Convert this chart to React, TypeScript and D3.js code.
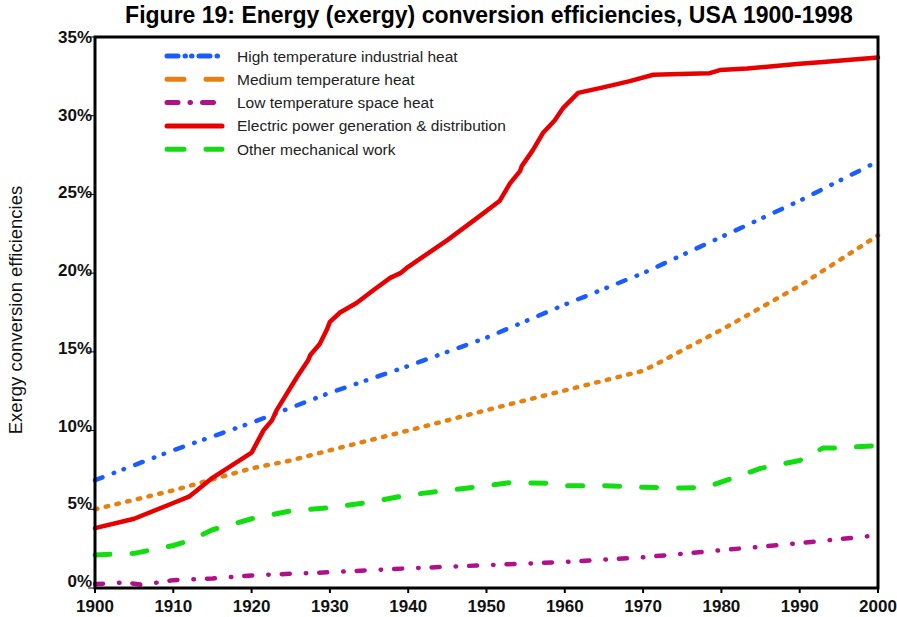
import React from 'react';
import * as d3 from 'd3';

const yearsHigh = [1900, 1910, 1920, 1930, 1940, 1950, 1960, 1970, 1980, 1990, 2000];
const valuesHigh = [6.85, 8.75, 10.5, 12.4, 14.1, 15.9, 18.0, 20.0, 22.3, 24.6, 27.1];

const yearsMedium = [1900, 1910, 1920, 1925, 1930, 1940, 1950, 1960, 1970, 1972, 1975, 1980, 1990, 2000];
const valuesMedium = [5.0, 6.2, 7.6, 8.1, 8.75, 10.0, 11.3, 12.55, 13.8, 14.3, 15.1, 16.4, 19.2, 22.4];

const yearsLow = [1900, 1904, 1906, 1910, 1915, 1920, 1930, 1940, 1950, 1960, 1970, 1980, 1990, 2000];
const valuesLow = [0.25, 0.35, 0.2, 0.5, 0.6, 0.8, 1.0, 1.25, 1.45, 1.65, 1.95, 2.4, 2.85, 3.35];

const yearsElectric = [1900, 1905, 1910, 1912, 1913, 1915, 1920, 1921.5, 1922.6, 1923.2, 1925.8, 1927.2, 1927.5, 1928.7, 1929.6, 1930, 1931.3, 1933.4, 1935.5, 1937.7, 1939, 1940, 1945, 1949.2, 1951.7, 1953, 1954.3, 1954.5, 1955.9, 1957.2, 1958.7, 1959.8, 1961.7, 1964.9, 1968.3, 1971.3, 1974.7, 1978.5, 1979.8, 1983.3, 1990, 1992.6, 2000];
const valuesElectric = [3.8, 4.4, 5.4, 5.8, 6.2, 7.0, 8.6, 10.0, 10.65, 11.3, 13.4, 14.45, 14.8, 15.5, 16.4, 16.9, 17.5, 18.1, 18.9, 19.7, 20.0, 20.4, 22.1, 23.65, 24.6, 25.7, 26.5, 26.8, 27.8, 28.9, 29.7, 30.5, 31.45, 31.8, 32.2, 32.6, 32.65, 32.7, 32.9, 33.0, 33.3, 33.4, 33.7];

const yearsMech = [1900, 1905, 1910, 1912, 1915, 1920, 1925, 1930, 1935, 1940, 1945, 1950, 1953, 1958, 1960, 1965, 1970, 1975, 1978, 1980.7, 1985, 1990, 1993, 1995, 2000];
const valuesMech = [2.1, 2.2, 2.7, 3.0, 3.7, 4.4, 4.9, 5.1, 5.45, 5.9, 6.2, 6.5, 6.7, 6.65, 6.5, 6.5, 6.4, 6.35, 6.4, 6.85, 7.6, 8.1, 8.9, 8.9, 9.05];

const seriesNames = [
  'High temperature industrial heat',
  'Medium temperature heat',
  'Low temperature space heat',
  'Electric power generation & distribution',
  'Other mechanical work',
];

const xTicks = [1900, 1910, 1920, 1930, 1940, 1950, 1960, 1970, 1980, 1990, 2000];
const yTicks = [0, 5, 10, 15, 20, 25, 30, 35];

const titleText = 'Figure 19: Energy (exergy) conversion efficiencies, USA 1900-1998';
const yAxisTitle = 'Exergy conversion efficiencies';

export default function App() {
  const W = 897, H = 617;
  const left = 95, right = 878, top = 37, bottom = 588;
  const x = d3.scaleLinear().domain([1900, 2000]).range([left, right]);
  const y = d3.scaleLinear().domain([0, 35]).range([bottom, top]);
  const line = d3.line<[number, number]>().x(d => x(d[0])).y(d => y(d[1])).curve(d3.curveLinear);
  const zip = (a: number[], b: number[]) => a.map((v, i) => [v, b[i]] as [number, number]);

  const series = [
    { name: seriesNames[0], data: zip(yearsHigh, valuesHigh), color: '#1a5cff', width: 4.5, dash: '8,12,0.5,10,0.5,12', legendDash: '11,7,0.5,6,0.5,7' },
    { name: seriesNames[1], data: zip(yearsMedium, valuesMedium), color: '#e88010', width: 4.5, dash: '2.5,8.5', legendDash: '17,22' },
    { name: seriesNames[2], data: zip(yearsLow, valuesLow), color: '#b0108a', width: 4.5, dash: '8,16,0.5,13', legendDash: '11,12,0.5,12' },
    { name: seriesNames[3], data: zip(yearsElectric, valuesElectric), color: '#e80000', width: 4.5, dash: '', legendDash: '' },
    { name: seriesNames[4], data: zip(yearsMech, valuesMech), color: '#11dd11', width: 5, dash: '15,22', legendDash: '17,22' },
  ];
  const drawOrder = [4, 2, 1, 0, 3];

  return (
    <svg width={W} height={H} style={{ position: 'absolute', left: 0, top: 0, background: '#fff' }}
      fontFamily="Arial, 'Liberation Sans', sans-serif">
      <rect x={0} y={0} width={W} height={H} fill="#fff" />
      <text x={489} y={23} textAnchor="middle" fontSize={23} fontWeight="bold" fill="#000">{titleText}</text>
      <text transform={`translate(22,310) rotate(-90)`} textAnchor="middle" fontSize={18.5} fill="#111">{yAxisTitle}</text>

      {drawOrder.map(i => {
        const s = series[i];
        return (
          <path key={s.name} d={line(s.data) || ''} fill="none" stroke={s.color}
            strokeWidth={s.width} strokeDasharray={s.dash || undefined}
            strokeLinecap="round" strokeLinejoin="round" />
        );
      })}

      {/* frame */}
      <rect x={left} y={top} width={right - left} height={bottom - top} fill="none" stroke="#000" strokeWidth={3} />

      {yTicks.map(t => (
        <g key={'y' + t}>
          <line x1={left - 7} x2={left} y1={y(t)} y2={y(t)} stroke="#000" strokeWidth={1} />
          <text x={left - 3} y={y(t) + 6 - (35 - t) / 5} textAnchor="end" fontSize={17} fontWeight="bold" fill="#111">{t}%</text>
        </g>
      ))}
      {xTicks.map(t => (
        <g key={'x' + t}>
          <line x1={x(t)} x2={x(t)} y1={bottom} y2={bottom + 5} stroke="#000" strokeWidth={2} />
          <text x={x(t)} y={bottom + 24} textAnchor="middle" fontSize={17} fontWeight="bold" fill="#111">{t}</text>
        </g>
      ))}

      {series.map((s, i) => {
        const ly = 56 + i * 23.3;
        return (
          <g key={'l' + i}>
            <line x1={167} x2={222} y1={ly} y2={ly} stroke={s.color} strokeWidth={5}
              strokeDasharray={s.legendDash || undefined} strokeLinecap="round" />
            <text x={237} y={ly + 5.5} fontSize={15.5} fill="#222">{s.name}</text>
          </g>
        );
      })}
    </svg>
  );
}
